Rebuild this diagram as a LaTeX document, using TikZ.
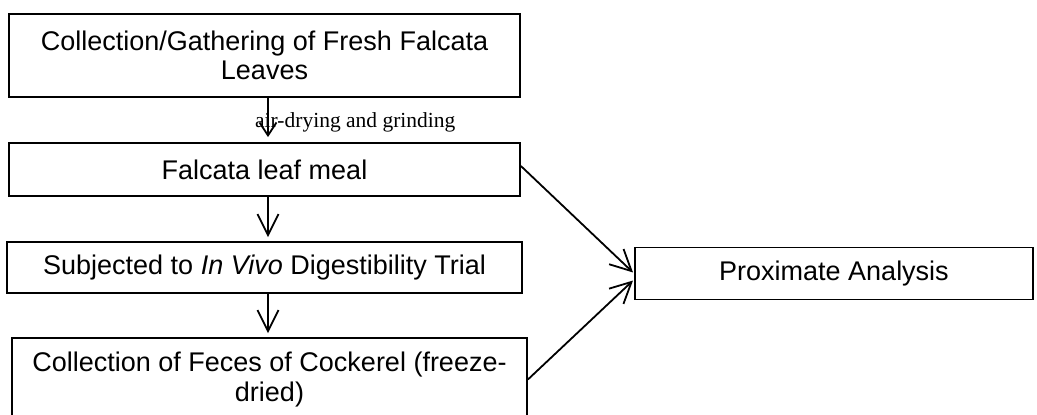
\documentclass[tikz,border=0pt]{standalone}
\usepackage{fontspec}
\setmainfont{Liberation Sans}
\newfontfamily\notefont{Liberation Serif}
\usetikzlibrary{arrows.meta}

\begin{document}
\begin{tikzpicture}[x=1pt,y=-1pt,
  box/.style={draw, line width=1.8pt, inner sep=0pt, align=center,
    font=\fontsize{27}{29.5}\selectfont},
  flow/.style={line width=1.8pt, -{Straight Barb[length=21pt,width=21pt]}},
  flowshort/.style={line width=1.8pt, -{Straight Barb[length=13pt,width=17pt]}},
  note/.style={inner sep=0pt, anchor=base west, font=\notefont\fontsize{21.5}{24}\selectfont},
]
\useasboundingbox (0,0) rectangle (1037,415);
\fill[white] (0,0) rectangle (1037,415);
\clip (0,0) rectangle (1037,415);

% process boxes
\node[box, minimum width=511pt, minimum height=83pt] (collect) at (264.5,55.5)
  {Collection/Gathering of Fresh Falcata\\Leaves};
\node[box, minimum width=511pt, minimum height=53pt] (meal) at (264.5,169.5)
  {Falcata leaf meal};
\node[box, minimum width=515pt, minimum height=51pt] (trial) at (264.5,267.5)
  {Subjected to \textit{In Vivo} Digestibility Trial};
\node[box, minimum width=515pt, minimum height=83pt] (feces) at (269.5,379.5)
  {Collection of Feces of Cockerel (freeze-\\dried)};
\node[box, minimum width=398pt, minimum height=52pt] (prox) at (834,273.5)
  {Proximate Analysis};

% vertical flow column
\coordinate (col) at (268,0);

\draw[flowshort, shorten >=5pt] (collect.south -| col) -- (meal.north -| col);
\node[note] (dry) at (255,127.3) {air-drying and grinding};
\draw[flow, shorten >=4pt] (meal.south -| col) -- (trial.north -| col);
\draw[flow, shorten >=4pt] (trial.south -| col) -- (feces.north -| col);

% samples sent to analysis
\draw[flow, shorten >=1.5pt] ([yshift=3.5pt]meal.east) -- (prox.west);
\draw[flow, shorten >=1.5pt] (feces.east) -- ([yshift=-6pt]prox.west);
\end{tikzpicture}
\end{document}
